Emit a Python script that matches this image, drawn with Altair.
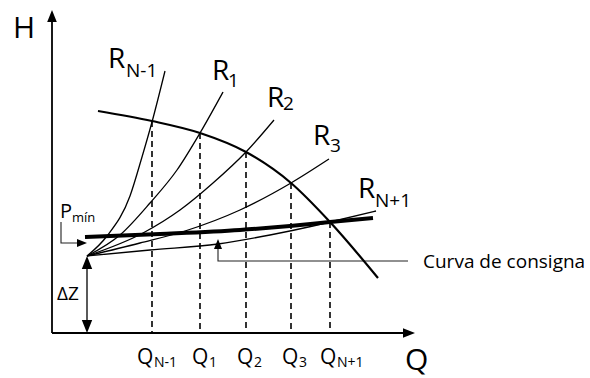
import altair as alt
import pandas as pd

FONT = "Open Sans"

# Pump curve H(Q)
pump_q = [46, 100, 148, 194, 239, 278, 326]
pump_h = [222, 212, 200, 181, 150, 111, 55]

# System curves, all starting from the static head point (ΔZ)
r_nm1_q = [35, 55, 78, 90, 100, 113]
r_nm1_h = [77, 97, 137, 176, 211, 262]
r1_q = [35, 68, 98, 125, 148, 171]
r1_h = [77, 98, 130, 163, 200, 241]
r2_q = [35, 91, 128, 161, 194, 222]
r2_h = [77, 100, 123, 150, 181, 213]
r3_q = [35, 88, 133, 188, 239, 277]
r3_h = [77, 90, 102, 123, 150, 174]
r_np1_q = [35, 98, 166, 218, 261, 278, 324]
r_np1_h = [77, 83, 89, 98, 107, 111, 122]

# Setpoint curve (curva de consigna)
set_q = [33, 108, 188, 238, 278, 321]
set_h = [96, 99, 103, 107, 111, 115]

# Operating points: pump / system intersections
op_q = [100, 148, 194, 239, 278]
op_h = [212, 200, 181, 150, 111]
op_labels = ["N-1", "1", "2", "3", "N+1"]

# Static head
dz_q = 35
dz_h = 77

X = alt.Scale(domain=[-52, 538], nice=False, zero=False)
Y = alt.Scale(domain=[-45, 333], nice=False, zero=False)


def xy(q="Q", h="H"):
    return dict(x=alt.X(f"{q}:Q", scale=X, axis=None),
                y=alt.Y(f"{h}:Q", scale=Y, axis=None))


def curve_df(series):
    rows = []
    for name, qs, hs in series:
        for i, (q, h) in enumerate(zip(qs, hs)):
            rows.append({"serie": name, "Q": q, "H": h, "o": i})
    return pd.DataFrame(rows)


systems = curve_df([
    ("R_N-1", r_nm1_q, r_nm1_h),
    ("R_1", r1_q, r1_h),
    ("R_2", r2_q, r2_h),
    ("R_3", r3_q, r3_h),
    ("R_N+1", r_np1_q, r_np1_h),
])
pump = curve_df([("bomba", pump_q, pump_h)])
setpoint = curve_df([("consigna", set_q, set_h)])

system_lines = alt.Chart(systems).mark_line(
    color="black", strokeWidth=1.3, interpolate="monotone"
).encode(detail="serie:N", order="o:Q", **xy())

pump_line = alt.Chart(pump).mark_line(
    color="black", strokeWidth=2.2, interpolate="monotone"
).encode(order="o:Q", **xy())

setpoint_line = alt.Chart(setpoint).mark_line(
    color="black", strokeWidth=4, interpolate="monotone"
).encode(order="o:Q", **xy())

# Dashed drop lines from each operating point to the Q axis
drops = pd.DataFrame({"Q": op_q, "H": op_h, "H0": [0] * len(op_q)})
drop_lines = alt.Chart(drops).mark_rule(
    color="black", strokeWidth=1.6, strokeDash=[6, 4]
).encode(y2="H0:Q", **xy())

# Axes with arrowheads
axes_df = pd.DataFrame({
    "seg": ["v", "v", "h", "h"],
    "Q": [0, 0, 0, 355],
    "H": [311, 0, 0, 0],
    "o": [0, 1, 1, 2],
})
axes_lines = alt.Chart(axes_df).mark_line(color="black", strokeWidth=1.8).encode(
    detail="seg:N", order="o:Q", **xy())

# ΔZ dimension line
dz_df = pd.DataFrame({"Q": [dz_q], "H": [dz_h - 6], "H0": [6]})
dz_line = alt.Chart(dz_df).mark_rule(color="black", strokeWidth=1.3).encode(
    y2="H0:Q", **xy())

# Leader lines for P_mín and curva de consigna callouts
leaders = pd.DataFrame({
    "id": ["p", "p", "p", "c", "c", "c"],
    "Q": [9, 9, 26, 166, 166, 356],
    "H": [111, 90, 90, 84, 72, 72],
    "o": [0, 1, 2, 0, 1, 2],
})
leader_lines = alt.Chart(leaders).mark_line(color="#222222", strokeWidth=1.1).encode(
    detail="id:N", order="o:Q", **xy())

UP = "M0,-1L-0.8,1L0.8,1Z"
DOWN = "M0,1L-0.8,-1L0.8,-1Z"
RIGHT = "M1,0L-1,-0.8L-1,0.8Z"
heads = pd.DataFrame({
    "Q": [0, 357, dz_q, dz_q, 30, 166],
    "H": [317, 0, dz_h - 6.5, 6.5, 90, 89],
    "shape": [UP, RIGHT, UP, DOWN, RIGHT, UP],
    "size": [144, 144, 169, 169, 100, 100],
})
arrowheads = alt.Chart(heads).mark_point(
    filled=True, color="black", opacity=1, strokeWidth=0
).encode(
    shape=alt.Shape("shape:N", scale=None),
    size=alt.Size("size:Q", scale=None),
    **xy(),
)

# Text labels: main letter and its subscript are separate pieces
sys_names = ["N-1", "1", "2", "3", "N+1"]
sys_r_pos = [(56, 265), (160, 253), (215, 226), (261, 188), (306, 135)]
sys_sub_pos = [(74, 256), (176, 246), (231, 223), (278, 181), (323, 126)]
q_pos = [85, 140, 185, 230, 268]
q_sub_pos = [102, 157, 202, 247, 285]

rows = [
    {"t": "H", "Q": -39, "H": 295, "s": 30},
    {"t": "Q", "Q": 353, "H": -37, "s": 30},
    {"t": "P", "Q": 8, "H": 115, "s": 20},
    {"t": "mín", "Q": 20, "H": 111, "s": 13},
    {"t": "ΔZ", "Q": 5, "H": 33, "s": 19},
    {"t": "Curva de consigna", "Q": 371, "H": 65, "s": 19},
]
for name, (rq, rh), (sq, sh) in zip(sys_names, sys_r_pos, sys_sub_pos):
    rows.append({"t": "R", "Q": rq, "H": rh, "s": 28})
    rows.append({"t": name, "Q": sq, "H": sh, "s": 19})
for name, qx, sx in zip(op_labels, q_pos, q_sub_pos):
    rows.append({"t": "Q", "Q": qx, "H": -31, "s": 21})
    rows.append({"t": name, "Q": sx, "H": -34, "s": 14})
labels = pd.DataFrame(rows)

texts = alt.Chart(labels).mark_text(
    align="left", baseline="alphabetic", font=FONT, color="black"
).encode(
    text="t:N",
    size=alt.Size("s:Q", scale=None),
    **xy(),
)

chart = alt.layer(
    axes_lines, dz_line, leader_lines, drop_lines,
    system_lines, setpoint_line, pump_line, arrowheads, texts,
).properties(
    width=590, height=378, autosize="none", padding=0, background="white"
).configure_view(stroke=None)

chart.save("out.html", embed_options={"renderer": "svg", "actions": False})
